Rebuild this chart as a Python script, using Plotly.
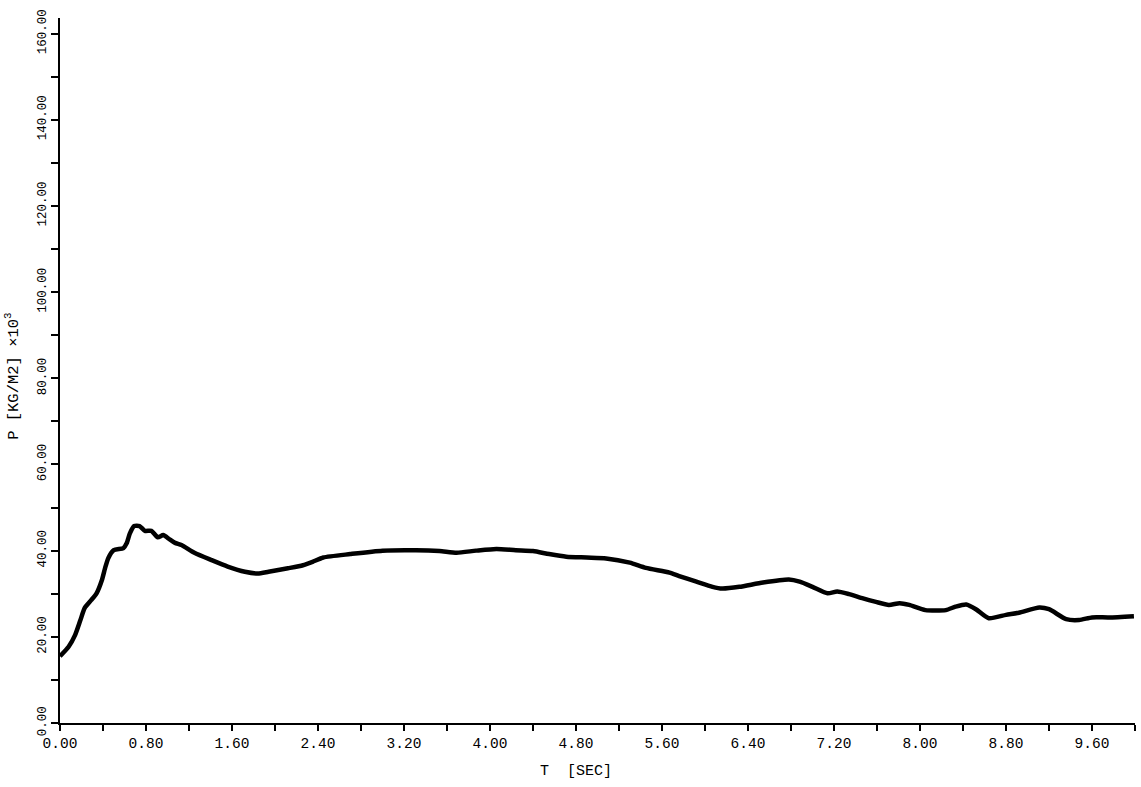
import plotly.graph_objects as go

# Pressure history P(t), P in KG/M2 x 10^3, T in seconds
t_sec = [0.0, 0.08, 0.14, 0.19, 0.23, 0.29, 0.34, 0.39, 0.42, 0.45,
         0.50, 0.59, 0.62, 0.65, 0.69, 0.74, 0.79, 0.85, 0.91, 0.96,
         1.02, 1.07, 1.13, 1.25, 1.41, 1.56, 1.72, 1.84, 1.94, 2.12,
         2.26, 2.35, 2.45, 2.70, 3.00, 3.31, 3.53, 3.69, 3.87, 4.06,
         4.24, 4.40, 4.55, 4.71, 4.90, 5.08, 5.30, 5.45, 5.67, 5.76,
         5.92, 6.07, 6.16, 6.32, 6.54, 6.78, 6.88, 7.00, 7.14, 7.23,
         7.34, 7.47, 7.59, 7.71, 7.81, 7.90, 8.05, 8.24, 8.33, 8.43,
         8.52, 8.64, 8.80, 8.92, 9.11, 9.20, 9.36, 9.48, 9.60, 9.76,
         9.99]
p_val = [15.5, 17.7, 20.4, 23.9, 26.7, 28.5, 30.1, 33.2, 36.0, 38.3,
         40.1, 40.6, 41.7, 44.0, 45.7, 45.7, 44.6, 44.6, 43.1, 43.6,
         42.6, 41.8, 41.3, 39.5, 37.8, 36.3, 35.1, 34.7, 35.1, 35.9,
         36.6, 37.4, 38.4, 39.2, 40.0, 40.1, 39.9, 39.5, 40.0, 40.4,
         40.1, 39.9, 39.2, 38.6, 38.4, 38.2, 37.2, 36.0, 34.9, 34.1,
         32.8, 31.6, 31.2, 31.6, 32.6, 33.3, 32.8, 31.6, 30.1, 30.5,
         29.9, 28.9, 28.1, 27.4, 27.8, 27.4, 26.2, 26.2, 27.0, 27.5,
         26.4, 24.3, 25.1, 25.6, 26.8, 26.4, 24.1, 23.9, 24.5, 24.5,
         24.8]

x_range = [0.0, 10.0]
y_range = [0.0, 163.6]

FONT = "Liberation Mono"

fig = go.Figure()
fig.add_trace(go.Scatter(
    x=t_sec, y=p_val, mode="lines",
    line=dict(color="black", width=4.5, shape="spline", smoothing=0.6),
    hoverinfo="skip", showlegend=False,
))

fig.update_layout(
    width=1141, height=787,
    margin=dict(l=60, r=6, t=18, b=64),
    paper_bgcolor="white", plot_bgcolor="white",
    font=dict(family=FONT, color="black"),
    xaxis=dict(
        range=x_range, dtick=0.8, tick0=0, tickformat=".2f",
        showgrid=False, zeroline=False,
        showline=True, linecolor="black", linewidth=2,
        ticks="outside", ticklen=6, tickwidth=1.5, tickcolor="black",
        tickfont=dict(family=FONT, size=14.5),
        minor=dict(dtick=0.4, tick0=0, ticks="outside", ticklen=6,
                   tickwidth=1.5, tickcolor="black"),
    ),
    yaxis=dict(
        range=y_range, dtick=20, tick0=0, tickformat=".2f",
        showgrid=False, zeroline=False,
        showline=True, linecolor="black", linewidth=2,
        ticks="outside", ticklen=7, tickwidth=1.5, tickcolor="black",
        tickangle=-90, tickfont=dict(family=FONT, size=12.5),
        minor=dict(dtick=10, tick0=0, ticks="outside", ticklen=7,
                   tickwidth=1.5, tickcolor="black"),
    ),
    annotations=[
        dict(text="P [KG/M2] ×10<sup>3</sup>", xref="paper", yref="paper",
             x=-0.0437, y=0.491, xanchor="center", yanchor="middle",
             textangle=-90, showarrow=False,
             font=dict(family=FONT, size=15.5, color="black")),
        dict(text="T  [SEC]", xref="paper", yref="paper",
             x=0.48, y=-0.0695, xanchor="center", yanchor="middle",
             showarrow=False,
             font=dict(family=FONT, size=15, color="black")),
    ],
)

fig.write_html("out.html")
